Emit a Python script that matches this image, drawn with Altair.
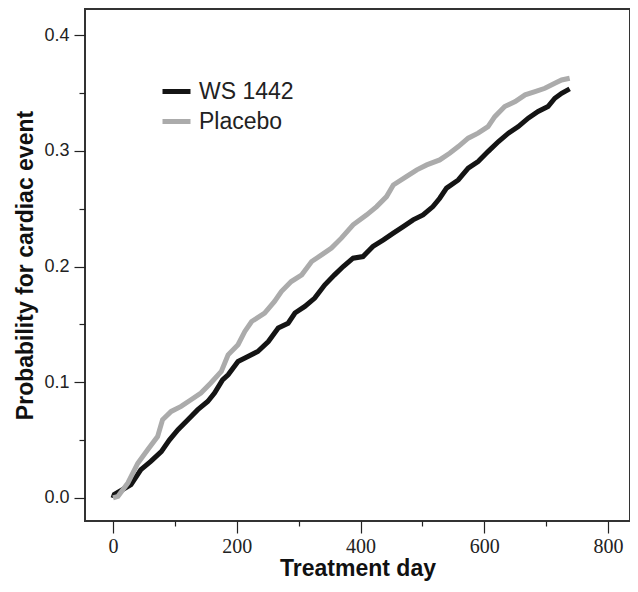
import altair as alt
import pandas as pd

# WS 1442 (black) cumulative probability
ws_day = [0, 2, 29, 45, 61, 78, 91, 105, 121, 137, 153, 164, 177, 186, 202, 218, 234, 251, 267,
          283, 294, 310, 326, 342, 358, 372, 388, 404, 420, 437, 453, 469, 485, 501, 517, 528, 539,
          558, 574, 590, 606, 623, 639, 655, 671, 687, 703, 714, 725, 738]
ws_prob = [0.0, 0.003, 0.0115, 0.0245, 0.0316, 0.040, 0.050, 0.059, 0.0676, 0.0763, 0.0834, 0.0907,
           0.102, 0.1065, 0.118, 0.1223, 0.1266, 0.1352, 0.1468, 0.151, 0.1598, 0.1655, 0.1727,
           0.184, 0.1928, 0.200, 0.2072, 0.2086, 0.2173, 0.223, 0.2288, 0.2345, 0.2403, 0.2446,
           0.2518, 0.259, 0.2677, 0.2748, 0.285, 0.2907, 0.2993, 0.308, 0.3152, 0.3209, 0.3282,
           0.3339, 0.3382, 0.3454, 0.3497, 0.3535]

# Placebo (grey)
pl_day = [0, 8, 24, 40, 56, 72, 80, 94, 110, 126, 142, 158, 175, 186, 202, 213, 224, 245, 261, 272,
          288, 305, 321, 337, 353, 369, 388, 410, 426, 442, 453, 474, 491, 507, 528, 544, 558, 574,
          590, 606, 617, 633, 650, 666, 682, 698, 714, 725, 738]
pl_prob = [0.0, 0.0014, 0.013, 0.030, 0.0417, 0.053, 0.0676, 0.0748, 0.0791, 0.0849, 0.0907,
           0.0993, 0.1093, 0.1237, 0.1324, 0.1439, 0.1525, 0.1598, 0.1698, 0.1784, 0.187, 0.1928,
           0.2043, 0.210, 0.2159, 0.2245, 0.236, 0.2446, 0.2518, 0.2604, 0.2705, 0.2777, 0.2835,
           0.2878, 0.2921, 0.2979, 0.3036, 0.3109, 0.3152, 0.3209, 0.3295, 0.3382, 0.3425, 0.3483,
           0.3511, 0.354, 0.3584, 0.3612, 0.3627]

groups = ["WS 1442", "Placebo"]
colors = ["#141414", "#ababab"]
x_ticks = [0, 100, 200, 300, 400, 500, 600, 700, 800]
y_ticks = [0.0, 0.05, 0.1, 0.15, 0.2, 0.25, 0.3, 0.35, 0.4]

df = pd.concat([
    pd.DataFrame({"day": ws_day, "prob": ws_prob, "group": groups[0]}),
    pd.DataFrame({"day": pl_day, "prob": pl_prob, "group": groups[1]}),
])

x_major = "datum.value % 200 === 0"
y_major = "abs(datum.value*10 - round(datum.value*10)) < 1e-6"

x_axis = alt.Axis(
    values=x_ticks,
    labelExpr=f"{x_major} ? datum.label : ''",
    format="d",
    domain=False, grid=False,
    tickSize=12, tickWidth=1.2, tickColor="#222",
    tickDash={"condition": {"test": f"!({x_major})", "value": [5, 30]}, "value": [30, 0]},
    labelFont="Liberation Serif", labelFontSize=20, labelColor="#222", labelPadding=3,
    title="Treatment day", titleFont="Liberation Sans", titleFontSize=23,
    titleFontWeight="bold", titleColor="#111", titlePadding=1,
)
y_axis = alt.Axis(
    values=y_ticks,
    labelExpr=f"{y_major} ? datum.label : ''",
    format=".1f",
    domain=False, grid=False,
    tickSize=11, tickWidth=1.2, tickColor="#222",
    tickDash={"condition": {"test": f"!({y_major})", "value": [6, 30]}, "value": [30, 0]},
    labelFont="Liberation Sans", labelFontSize=18, labelColor="#222", labelPadding=5,
    title="Probability for cardiac event", titleFont="Liberation Sans", titleFontSize=23,
    titleFontWeight="bold", titleColor="#111", titlePadding=6,
)

chart = alt.Chart(df).mark_line(strokeWidth=5).encode(
    x=alt.X("day:Q", scale=alt.Scale(domain=[-45.3, 835.5], nice=False, zero=False), axis=x_axis),
    y=alt.Y("prob:Q", scale=alt.Scale(domain=[-0.0199, 0.4225], nice=False, zero=False), axis=y_axis),
    color=alt.Color("group:N", scale=alt.Scale(domain=groups, range=colors),
                    legend=alt.Legend(
                        orient="none", legendX=75, legendY=66, title=None,
                        symbolType="stroke", symbolSize=784, symbolStrokeWidth=5,
                        labelFont="Liberation Sans", labelFontSize=23, labelColor="#222",
                        labelOffset=6, rowPadding=1,
                    )),
    order=alt.Order("day:Q"),
).properties(
    width=545, height=512,
    autosize="none",
    padding={"left": 77, "top": 1, "right": 0, "bottom": 63},
).configure_view(stroke="#333", strokeWidth=2)

chart.save("out.html", embed_options={"renderer": "svg", "actions": False})
